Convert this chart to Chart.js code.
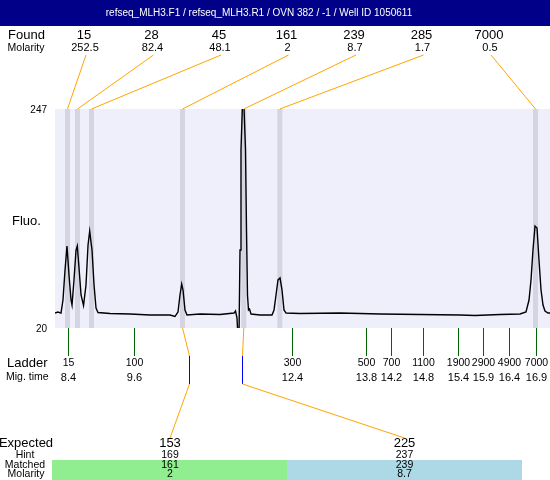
<!DOCTYPE html>
<html><head><meta charset="utf-8">
<script src="https://cdn.jsdelivr.net/npm/chart.js@4/dist/chart.umd.min.js"></script>
<style>html,body{margin:0;padding:0;background:#fff;}canvas{display:block;}</style>
</head><body>
<canvas id="c" width="550" height="480"></canvas>
<script>
const titleText = 'refseq_MLH3.F1 / refseq_MLH3.R1 / OVN 382 / -1 / Well ID 1050611';
// electropherogram trace: migration time vs fluorescence
const traceTimes = [8.164,8.218,8.273,8.309,8.346,8.382,8.418,8.455,8.473,8.509,8.546,8.569,8.600,8.637,8.682,8.727,8.764,8.794,8.836,8.873,8.909,8.945,9.163,9.526,9.889,10.253,10.343,10.398,10.434,10.465,10.489,10.525,10.561,10.798,11.160,11.415,11.442,11.469,11.488,11.506,11.524,11.542,11.569,11.597,11.624,11.642,11.660,11.678,11.696,11.724,11.887,12.105,12.142,12.178,12.214,12.251,12.287,12.323,12.360,12.614,13.340,14.067,14.793,15.520,15.792,16.246,16.609,16.718,16.773,16.809,16.845,16.882,16.918,16.954,16.991,17.027,17.063,17.118,17.154];
const traceValues = [35.5,36.6,35.5,49.0,80.1,105.0,74.9,49.0,43.8,69.8,100.8,105.0,82.2,54.2,43.3,64.6,106.0,120.5,100.8,64.6,40.7,36.1,35.0,34.5,33.5,33.5,31.9,36.6,54.2,65.6,59.4,38.7,33.5,34.5,34.0,35.5,37.6,30.4,10,12,100.8,204.5,252,248,204.5,121.6,54.2,38.7,39.7,34.5,33.5,33.5,38.7,54.2,69.8,71.8,59.4,38.7,35.5,35.0,35.5,34.5,34.0,33.5,33.0,34.0,34.5,36.6,49.0,69.8,100.8,125.7,123.6,90.5,59.4,43.8,37.6,35.5,35.5];
const yTicks = [20, 247];
const xRange = [8.164, 17.154];
// found peaks
const foundTimes = [8.391,8.573,8.827,10.480,11.593,12.247,16.891];
const foundSizes = ['15','28','45','161','239','285','7000'];
const foundMolarity = ['252.5','82.4','48.1','2','8.7','1.7','0.5'];
// ladder
const ladderTimes = [8.406,9.604,12.474,13.818,14.266,14.850,15.478,15.943,16.415,16.905];
const ladderSizes = ['15','100','300','500','700','1100','1900','2900','4900','7000'];
const ladderTimeLabels = ['8.4','9.6','12.4','13.8','14.2','14.8','15.4','15.9','16.4','16.9'];
// expected / matched
const expectedSizes = ['153','225'];
const hintSizes = ['169','237'];
const matchedSizes = ['161','239'];
const matchedMolarity = ['2','8.7'];
const expectedTimes = [10.598, 11.560];
const matchedPeakIndex = [3, 4];
const matchColors = ['#90ee90', '#add8e6'];

const FONT = '"Liberation Sans", Arial, Helvetica, sans-serif';
function txt(ctx, s, x, y, size, align, color){
  ctx.font = size + 'px ' + FONT;
  ctx.textAlign = align || 'center';
  ctx.textBaseline = 'middle';
  ctx.fillStyle = color || '#000';
  ctx.fillText(s, x, y);
}
function line(ctx, x1, y1, x2, y2, color){
  ctx.strokeStyle = color; ctx.lineWidth = 1;
  ctx.beginPath(); ctx.moveTo(x1, y1); ctx.lineTo(x2, y2); ctx.stroke();
}

const deco = {
  id: 'deco',
  beforeDraw(chart){
    const ctx = chart.ctx, a = chart.chartArea;
    ctx.save();
    ctx.fillStyle = '#fff'; ctx.fillRect(0, 0, chart.width, chart.height);
    ctx.fillStyle = '#000088'; ctx.fillRect(0, 0, chart.width, 26);
    txt(ctx, titleText, 259, 13.5, 10, 'center', '#fff');
    ctx.fillStyle = '#efeffb'; ctx.fillRect(a.left, a.top, a.right - a.left, a.bottom - a.top);
    ctx.restore();
  },
  beforeDatasetsDraw(chart){
    const ctx = chart.ctx, a = chart.chartArea, xs = chart.scales.x;
    ctx.save();
    ctx.fillStyle = '#d4d4e2';
    foundTimes.forEach(t => { const px = xs.getPixelForValue(t); ctx.fillRect(px - 2.5, a.top, 5, a.bottom - a.top); });
    ctx.restore();
  },
  afterDraw(chart){
    const ctx = chart.ctx, a = chart.chartArea, xs = chart.scales.x, ys = chart.scales.y;
    ctx.save();
    // y labels
    yTicks.forEach(v => txt(ctx, String(v), 47, ys.getPixelForValue(v) + 1, 10, 'right'));
    txt(ctx, 'Fluo.', 12, 221, 13, 'left');
    // found header
    txt(ctx, 'Found', 8, 35, 13, 'left');
    txt(ctx, 'Molarity', 26, 48, 10.5, 'center');
    foundSizes.forEach((s, i) => {
      const cx = 84 + 67.5 * i;
      txt(ctx, s, cx, 35, 13);
      txt(ctx, foundMolarity[i], cx + 1, 48, 11);
      line(ctx, cx + 2, 55, xs.getPixelForValue(foundTimes[i]), a.top, '#ffa500');
    });
    // ladder
    txt(ctx, 'Ladder', 7, 363.5, 13, 'left');
    txt(ctx, 'Mig. time', 6, 377.5, 10.5, 'left');
    ladderTimes.forEach((t, i) => {
      const px = Math.round(xs.getPixelForValue(t)) + 0.5;
      line(ctx, px, a.bottom, px, 356, '#006400');
      txt(ctx, ladderSizes[i], px, 363.5, 10.5);
      txt(ctx, ladderTimeLabels[i], px, 377.5, 11);
    });
    // expected section
    txt(ctx, 'Expected', 26, 443, 13);
    txt(ctx, 'Hint', 25, 455, 10.5);
    txt(ctx, 'Matched', 25, 465.5, 10.5);
    txt(ctx, 'Molarity', 26, 474.5, 10.5);
    expectedSizes.forEach((s, i) => {
      const cx = 170 + 234.5 * i;
      ctx.fillStyle = matchColors[i];
      ctx.fillRect(52 + 235 * i, 460, 235, 20);
      txt(ctx, s, cx, 443, 13);
      txt(ctx, hintSizes[i], cx, 455, 10.5);
      txt(ctx, matchedSizes[i], cx, 465.5, 10.5);
      txt(ctx, matchedMolarity[i], cx, 474.5, 10.5);
      const pk = xs.getPixelForValue(foundTimes[matchedPeakIndex[i]]);
      const ex = Math.round(xs.getPixelForValue(expectedTimes[i])) + 0.5;
      line(ctx, pk, a.bottom, ex, 356, '#ffa500');
      line(ctx, ex, 356, ex, 384, '#0000ff');
      line(ctx, ex, 384, cx, 438, '#ffa500');
    });
    ctx.restore();
  }
};

new Chart(document.getElementById('c'), {
  type: 'line',
  data: {
    datasets: [{
      data: traceTimes.map((t, i) => ({x: t, y: traceValues[i]})),
      borderColor: '#000', borderWidth: 1.4, pointRadius: 0, tension: 0, clip: 0, fill: false
    }]
  },
  options: {
    responsive: false, animation: false, devicePixelRatio: 1,
    layout: { padding: { left: 55, right: 0, top: 109, bottom: 152 } },
    plugins: { legend: { display: false }, tooltip: { enabled: false } },
    scales: {
      x: { type: 'linear', min: xRange[0], max: xRange[1], display: false },
      y: { type: 'linear', min: yTicks[0], max: yTicks[1], display: false }
    }
  },
  plugins: [deco]
});
</script>
</body></html>
